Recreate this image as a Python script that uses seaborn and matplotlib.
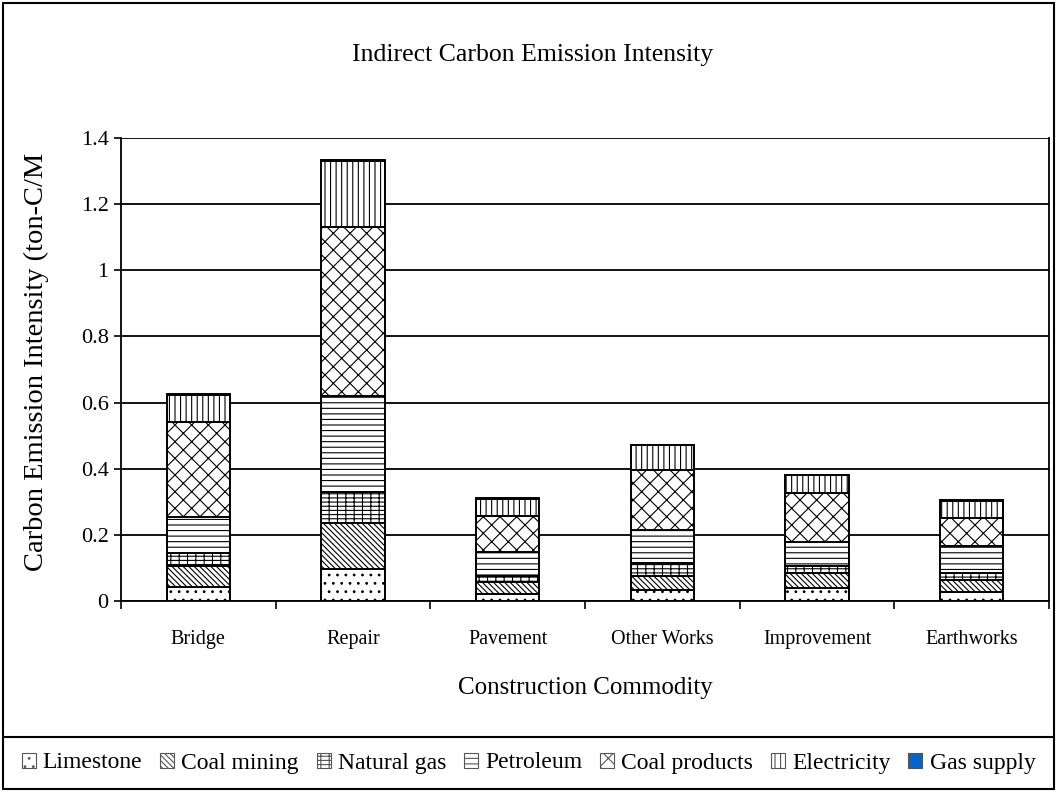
import numpy as np
import pandas as pd
import matplotlib
matplotlib.use("Agg")
import matplotlib.pyplot as plt
from matplotlib.patches import Patch, Rectangle
from matplotlib.lines import Line2D
import seaborn as sns

# Construction commodities on the x axis
categories = ["Bridge", "Repair", "Pavement", "Other Works", "Improvement", "Earthworks"]

# Indirect carbon emission intensity by sector (ton-C per million)
limestone     = [0.043, 0.096, 0.021, 0.032, 0.038, 0.026]
coal_mining   = [0.064, 0.140, 0.036, 0.045, 0.046, 0.038]
natural_gas   = [0.039, 0.094, 0.020, 0.037, 0.022, 0.022]
petroleum     = [0.107, 0.290, 0.072, 0.101, 0.071, 0.081]
coal_products = [0.287, 0.510, 0.109, 0.180, 0.149, 0.084]
electricity   = [0.082, 0.200, 0.049, 0.076, 0.054, 0.051]
gas_supply    = [0.005, 0.004, 0.004, 0.002, 0.002, 0.004]

series_names = ["Limestone", "Coal mining", "Natural gas", "Petroleum",
                "Coal products", "Electricity", "Gas supply"]
series_values = [limestone, coal_mining, natural_gas, petroleum,
                 coal_products, electricity, gas_supply]
# Fill patterns: dots, dense back-diagonals, bricks, horizontal, weave, vertical, solid
hatches = ["..", "\\" * 6, "++--", "---", "xx", "|||", ""]
faces = ["white"] * 6 + ["#0a64c8"]

sns.set_style("ticks")
plt.rcParams["font.family"] = ["Liberation Serif", "DejaVu Serif"]
plt.rcParams["hatch.linewidth"] = 0.8
plt.rcParams["hatch.color"] = "black"
for key in ["text.color", "axes.labelcolor", "xtick.color", "ytick.color"]:
    plt.rcParams[key] = "black"

fig = plt.figure(figsize=(10.57, 7.92), dpi=100)
ax = fig.add_axes([121 / 1057, 1 - 601 / 792, (1049 - 121) / 1057, (601 - 138) / 792])

bottom = np.zeros(len(categories))
for name, vals, hatch, face in zip(series_names, series_values, hatches, faces):
    df = pd.DataFrame({"commodity": categories, "value": vals})
    sns.barplot(data=df, x="commodity", y="value", order=categories,
                bottom=bottom, width=0.41, color=face, saturation=1,
                edgecolor="black", linewidth=1.4, hatch=hatch,
                errorbar=None, ax=ax)
    bottom = bottom + np.asarray(vals)

# Axes styling
ax.set_ylim(0, 1.4)
ax.set_xlim(-0.5, len(categories) - 0.5)
ax.set_yticks(np.arange(0, 1.41, 0.2))
ax.set_yticklabels(["0", "0.2", "0.4", "0.6", "0.8", "1", "1.2", "1.4"])
ax.yaxis.grid(True, color="black", linewidth=1.3)
ax.set_axisbelow(True)
for side in ["left", "bottom", "right"]:
    ax.spines[side].set_visible(True)
    ax.spines[side].set_color("black")
    ax.spines[side].set_linewidth(1.3)
ax.spines["top"].set_visible(False)

# Category separators as major ticks, labels on minor ticks at bar centres
ax.set_xticks(np.arange(-0.5, len(categories), 1.0))
ax.set_xticklabels([])
ax.set_xticks(np.arange(len(categories)), minor=True)
ax.set_xticklabels(categories, minor=True, fontsize=14.5)
ax.tick_params(axis="x", which="major", length=6, width=1.2, color="black", direction="out")
ax.tick_params(axis="x", which="minor", length=0, pad=21)
ax.tick_params(axis="y", length=5, width=1.2, color="black", direction="out",
               labelsize=16, pad=4)

ax.set_xlabel("Construction Commodity", fontsize=18)
ax.xaxis.set_label_coords(0.5, (601 - 688) / 463)
ax.xaxis.label.set_va("center")
ax.set_ylabel("Carbon Emission Intensity (ton-C/M", fontsize=20.5)
ax.yaxis.set_label_coords((36 - 121) / 928, (601 - 362) / 463)
ax.yaxis.label.set_va("center")

fig.text(0.504, 1 - 55 / 792, "Indirect Carbon Emission Intensity",
         ha="center", va="center", fontsize=18.5)

# Legend row in its own band
handles = [Patch(facecolor=f, edgecolor="#555555", hatch=h, linewidth=0.8)
           for f, h in zip(faces, hatches)]
fig.legend(handles, series_names, loc="center", ncol=7,
           bbox_to_anchor=(0.5, 1 - 763 / 792), frameon=False, fontsize=17,
           handlelength=0.6, handleheight=0.6, handletextpad=0.3,
           columnspacing=0.75, borderpad=0.0)

fig.add_artist(Line2D([3 / 1057, 1054 / 1057], [1 - 737 / 792, 1 - 737 / 792],
                      transform=fig.transFigure, color="black", linewidth=1.5))
fig.add_artist(Rectangle((3 / 1057, 3 / 792), 1051 / 1057, 786 / 792,
                         transform=fig.transFigure, fill=False,
                         edgecolor="black", linewidth=1.5))

fig.savefig("out.png", dpi=100, facecolor="white")
